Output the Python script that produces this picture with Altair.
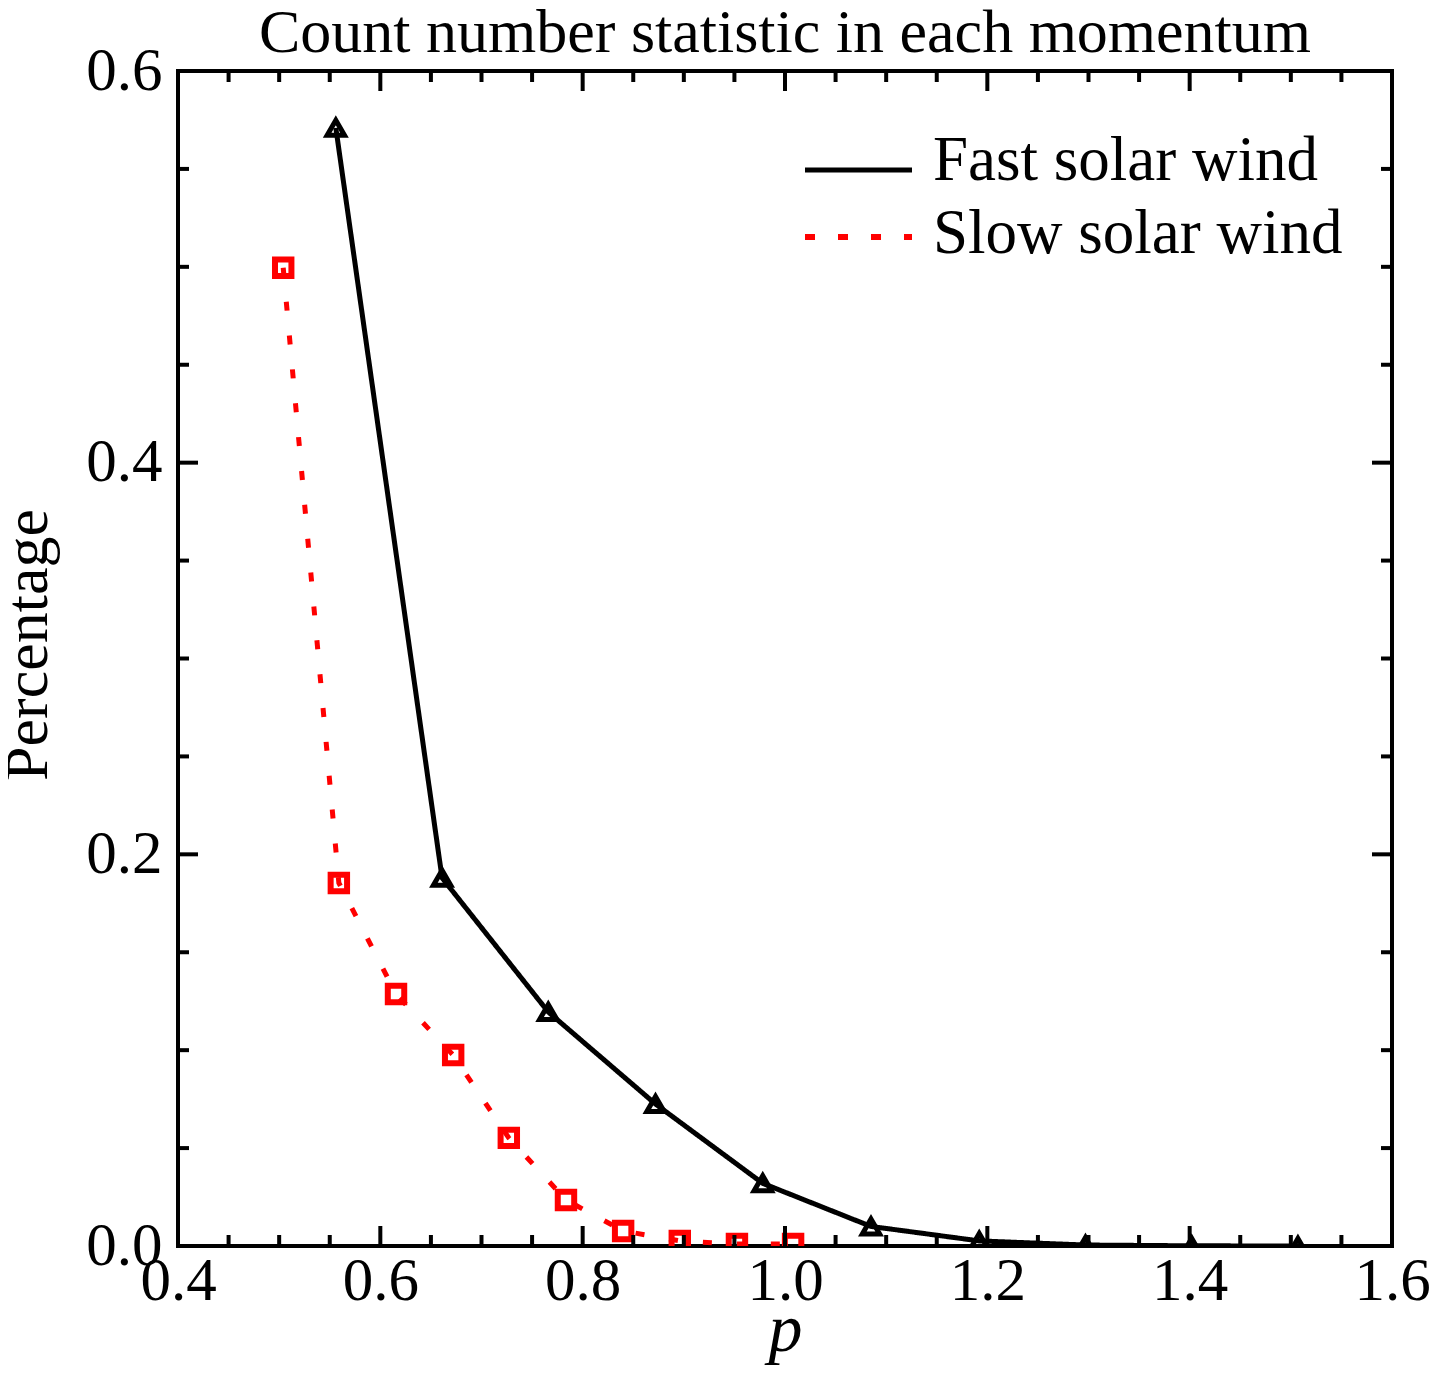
import altair as alt
import pandas as pd

# ---- data ----
fast_p = [0.556, 0.661, 0.766, 0.872, 0.978, 1.085, 1.192, 1.297, 1.402, 1.507]
fast_pct = [0.571, 0.188, 0.1195, 0.0725, 0.032, 0.010, 0.0026, 0.0005, 0.0001, 0.0]
slow_p = [0.504, 0.559, 0.6155, 0.672, 0.727, 0.7835, 0.840, 0.896, 0.9525, 1.008]
slow_pct = [0.4995, 0.1854, 0.1287, 0.0975, 0.0552, 0.0235, 0.0077, 0.0026, 0.001, 0.001]
series_names = ["Fast solar wind", "Slow solar wind"]
series_colors = ["black", "red"]

x_major = [0.4, 0.6, 0.8, 1.0, 1.2, 1.4, 1.6]
x_minor = [0.45, 0.5, 0.55, 0.65, 0.7, 0.75, 0.85, 0.9, 0.95, 1.05, 1.1, 1.15,
           1.25, 1.3, 1.35, 1.45, 1.5, 1.55]
y_major = [0.0, 0.2, 0.4, 0.6]
y_minor = [0.05, 0.1, 0.15, 0.25, 0.3, 0.35, 0.45, 0.5, 0.55]

W, H = 1214, 1175
FONT = "Liberation Serif"
MAJ, MIN = 20, 11
SLOW_DASH = [9, 25]

df = pd.concat([
    pd.DataFrame({"p": fast_p, "pct": fast_pct, "series": series_names[0]}),
    pd.DataFrame({"p": slow_p, "pct": slow_pct, "series": series_names[1]}),
])

xs = alt.Scale(domain=[0.4, 1.6], nice=False, zero=False)
ys = alt.Scale(domain=[0.0, 0.6], nice=False, zero=False)

x_enc = alt.X("p:Q", scale=xs, title="p",
              axis=alt.Axis(values=x_major, format=".1f", domain=False, ticks=False, grid=False,
                            labelFlush=False, labelOverlap=False,
                            labelFont=FONT, labelFontSize=61, labelColor="black", labelPadding=5,
                            titleFont=FONT, titleFontSize=68, titleFontStyle="italic",
                            titleFontWeight="normal", titleColor="black", titlePadding=-15))
y_enc = alt.Y("pct:Q", scale=ys, title="Percentage",
              axis=alt.Axis(values=y_major, format=".1f", domain=False, ticks=False, grid=False,
                            labelFlush=False, labelOverlap=False,
                            labelFont=FONT, labelFontSize=61, labelColor="black", labelPadding=16,
                            titleFont=FONT, titleFontSize=62, titleFontWeight="normal",
                            titleColor="black", titlePadding=26, titleY=H / 2 - 14))

color = alt.Color("series:N", scale=alt.Scale(domain=series_names, range=series_colors), legend=None)
dash = alt.StrokeDash("series:N", scale=alt.Scale(domain=series_names, range=[[1, 0], SLOW_DASH]),
                      legend=None)

lines = alt.Chart(df).mark_line(strokeWidth=5, clip=True).encode(
    x=x_enc, y=y_enc, color=color, strokeDash=dash, detail="series:N")

fast_pts = alt.Chart(df[df.series == series_names[0]]).mark_point(
    shape="triangle-up", size=300, filled=False, strokeWidth=5, color="black", opacity=1, clip=True
).encode(x="p:Q", y="pct:Q")
slow_pts = alt.Chart(df[df.series == series_names[1]]).mark_point(
    shape="square", size=270, filled=False, strokeWidth=6, color="red", opacity=1, clip=True
).encode(x="p:Q", y="pct:Q")

# inward ticks on all four sides
def xticks(vals, length):
    d = pd.DataFrame({"p": vals})
    b = alt.Chart(d).mark_rule(color="black", strokeWidth=4).encode(
        x="p:Q", y=alt.value(H), y2=alt.value(H - length))
    t = alt.Chart(d).mark_rule(color="black", strokeWidth=4).encode(
        x="p:Q", y=alt.value(0), y2=alt.value(length))
    return b + t

def yticks(vals, length):
    d = pd.DataFrame({"pct": vals})
    l = alt.Chart(d).mark_rule(color="black", strokeWidth=4).encode(
        y="pct:Q", x=alt.value(0), x2=alt.value(length))
    r = alt.Chart(d).mark_rule(color="black", strokeWidth=4).encode(
        y="pct:Q", x=alt.value(W), x2=alt.value(W - length))
    return l + r

# legend (drawn in the top-right corner of the plot)
leg_df = pd.DataFrame({"series": series_names})
LEG_X0, LEG_X1, LEG_TX = 627, 734, 755
LEG_Y = [99, 166]
LEG_BASE = [109, 182]
legend_layers = []
for i, name in enumerate(series_names):
    d = leg_df[leg_df.series == name]
    legend_layers.append(alt.Chart(d).mark_rule(
        color=series_colors[i], strokeWidth=5 if i == 0 else 6,
        strokeDash=[1, 0] if i == 0 else [10, 23]
    ).encode(x=alt.value(LEG_X0), x2=alt.value(LEG_X1), y=alt.value(LEG_Y[i])))
    legend_layers.append(alt.Chart(d).mark_text(
        font=FONT, fontSize=63, color="black", align="left", baseline="alphabetic"
    ).encode(x=alt.value(LEG_TX), y=alt.value(LEG_BASE[i]), text="series:N"))

chart = alt.layer(
    lines, fast_pts, slow_pts,
    xticks(x_major, MAJ), xticks(x_minor, MIN), yticks(y_major, MAJ), yticks(y_minor, MIN),
    *legend_layers,
).properties(
    width=W, height=H,
    title=alt.TitleParams("Count number statistic in each momentum", font=FONT, fontSize=62,
                          fontWeight="normal", color="black", anchor="middle", offset=-25),
    padding={"left": 170, "top": 63, "right": 40, "bottom": 125},
    autosize="none",
    background="white",
).configure_view(stroke="black", strokeWidth=4)

chart.save("out.html", embed_options={"renderer": "svg", "actions": False})
